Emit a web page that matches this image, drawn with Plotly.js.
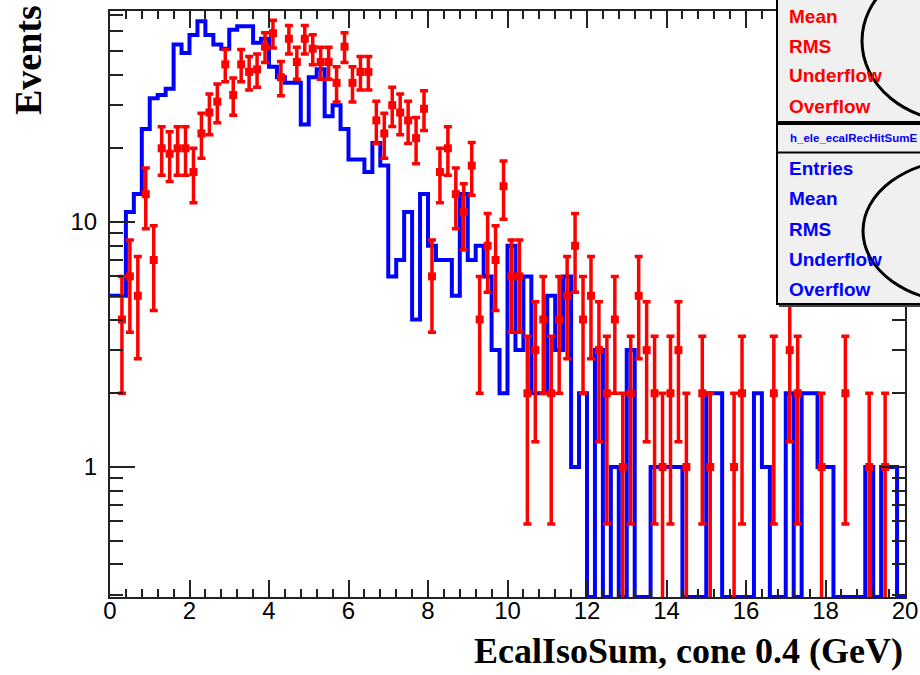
<!DOCTYPE html>
<html><head><meta charset="utf-8">
<script src="https://cdn.plot.ly/plotly-3.0.1.min.js"></script>
<style>body{margin:0;background:#fff}#chart{width:920px;height:675px}</style>
</head><body><div id="chart"></div>
<script>
// ---- data ----
const binLow = 0;
const binWidth = 0.2;
const blueCounts = [5,5,11,13,24,32,33,35,53,49,
  58,66,58,53,51,61,63,63,54,56,
  43,39,37,37,25,39,42,27,30,24,
  18,18,16,21,17,6,7,11,4,13,
  8,7,7,5,13,7,8,6,3,2,
  8,3,6,2,2,5,3,6,1,2,
  0,3,0,1,0,3,0,0,1,1,
  1,1,0,0,0,2,2,0,0,0,
  0,2,1,0,0,2,0,2,2,1,
  1,0,0,0,0,1,0,1,1,0];
const redCounts = [0,4,6,5,13,7,20,19,20,20,
  16,23,28,31,44,33,44,41,42,52,
  59,39,56,45,56,51,45,45,37,52,
  37,41,41,26,23,30,28,26,22,29,
  6,16,20,13,11,17,4,8,7,14,
  6,6,2,3,4,2,4,5,8,4,
  5,3,2,4,1,2,5,3,2,1,
  2,3,1,0,2,1,0,0,1,2,
  0,0,0,2,0,3,2,0,0,1,
  0,0,2,0,0,1,0,1,0,0];
const xTickLabels = ['0','2','4','6','8','10','12','14','16','18','20'];
const yTickValues = [1, 10];
const yTickLabels = ['1', '10'];
const statRedLabels = ['Mean','RMS','Underflow','Overflow'];
const statBlueLabels = ['Entries','Mean','RMS','Underflow','Overflow'];
const statTitle = 'h_ele_ecalRecHitSumE';
const xTitle = 'EcalIsoSum, cone 0.4 (GeV)';
const yTitle = 'Events';

// ---- build ----
const yMin = 0.2946, yMax = 72.7;
const nb = blueCounts.length;
const edges = [];
for (let i = 0; i <= nb; i++) edges.push(+(binLow + i * binWidth).toFixed(4));
const blueY = blueCounts.map(v => v > 0 ? v : yMin);
blueY.push(blueY[blueY.length - 1]);

const redX = [], redY = [], redErr = [];
redCounts.forEach((v, i) => {
  if (v > 0) {
    redX.push(binLow + (i + 0.5) * binWidth);
    redY.push(v);
    redErr.push(Math.sqrt(v));
  }
});

const minorY = [];
[0.1, 1, 10].forEach(d => { for (let k = 2; k <= 9; k++) { const v = k * d; if (v > yMin && v < yMax) minorY.push(v); } });

// plot area in pixels: left 110, right 905, top 11, bottom 597
const L = 110, R = 905, T = 11, B = 597;
const px = x => (x - L) / (R - L);
const py = y => (B - y) / (B - T);

const traces = [
  {
    x: edges, y: blueY, type: 'scatter', mode: 'lines',
    line: {shape: 'hv', color: '#0000ff', width: 4},
    hoverinfo: 'skip', showlegend: false
  },
  {
    x: redX, y: redY, type: 'scatter', mode: 'markers',
    marker: {symbol: 'square', size: 8, color: '#ff0000'},
    error_y: {type: 'data', array: redErr, visible: true, color: '#ff0000', thickness: 3.5, width: 4},
    hoverinfo: 'skip', showlegend: false
  }
];

const shapes = [
  {type: 'rect', xref: 'paper', yref: 'paper', x0: px(777), x1: px(935), y0: py(122), y1: py(-10),
   line: {color: '#000', width: 2}, fillcolor: '#f0f0f0', layer: 'above'},
  {type: 'rect', xref: 'paper', yref: 'paper', x0: px(777), x1: px(935), y0: py(304), y1: py(124),
   line: {color: '#000', width: 2}, fillcolor: '#f0f0f0', layer: 'above'},
  {type: 'line', xref: 'paper', yref: 'paper', x0: px(777), x1: px(935), y0: py(152.5), y1: py(152.5),
   line: {color: '#000', width: 2}, layer: 'above'},
  {type: 'line', xref: 'paper', yref: 'paper', x0: px(779), x1: px(935), y0: py(306), y1: py(306),
   line: {color: '#444', width: 2}, layer: 'above'},
  {type: 'circle', xref: 'paper', yref: 'paper', x0: px(862), x1: px(1058), y0: py(122), y1: py(-40),
   line: {color: '#000', width: 3}, layer: 'above'},
  {type: 'circle', xref: 'paper', yref: 'paper', x0: px(863), x1: px(1061), y0: py(302), y1: py(160),
   line: {color: '#000', width: 3}, layer: 'above'}
];

const annotations = [];
const redYs = [16.5, 46, 76, 106.5];
statRedLabels.forEach((t, i) => annotations.push({
  text: t, xref: 'paper', yref: 'paper', x: px(787), y: py(redYs[i]), xanchor: 'left', yanchor: 'middle',
  showarrow: false, font: {family: 'Liberation Sans, Arial, sans-serif', size: 19, color: '#ff0000', weight: 'bold'}
}));
const blueYs = [168, 198.5, 229, 259, 289];
statBlueLabels.forEach((t, i) => annotations.push({
  text: t, xref: 'paper', yref: 'paper', x: px(787), y: py(blueYs[i]), xanchor: 'left', yanchor: 'middle',
  showarrow: false, font: {family: 'Liberation Sans, Arial, sans-serif', size: 19, color: '#0000ff', weight: 'bold'}
}));
annotations.push({
  text: statTitle, xref: 'paper', yref: 'paper', x: px(788), y: py(137.5), xanchor: 'left', yanchor: 'middle',
  showarrow: false, font: {family: 'Liberation Sans, Arial, sans-serif', size: 11.5, color: '#0000ff', weight: 'bold'}
});
annotations.push({
  text: xTitle, xref: 'paper', yref: 'paper', x: 1, y: py(651), xanchor: 'right', yanchor: 'middle',
  showarrow: false, font: {family: 'Liberation Serif, Times New Roman, serif', size: 36, color: '#000', weight: 'bold'}
});
annotations.push({
  text: yTitle, xref: 'paper', yref: 'paper', x: px(28), y: py(3), xanchor: 'center', yanchor: 'top',
  textangle: -90, showarrow: false,
  font: {family: 'Liberation Serif, Times New Roman, serif', size: 38, color: '#000', weight: 'bold'}
});

const axisFont = {family: 'Liberation Sans, Arial, sans-serif', size: 24, color: '#000'};
const layout = {
  width: 920, height: 675,
  margin: {l: L, r: 920 - R, t: T, b: 675 - B, pad: 0},
  paper_bgcolor: '#ffffff', plot_bgcolor: '#ffffff',
  showlegend: false,
  xaxis: {
    range: [0, 20], tickmode: 'array',
    tickvals: xTickLabels.map(Number), ticktext: xTickLabels,
    ticks: 'inside', ticklen: 17, tickwidth: 2, tickcolor: '#222',
    showline: true, linecolor: '#222', linewidth: 2, mirror: 'allticks',
    showgrid: false, zeroline: false, tickfont: axisFont, ticklabelstandoff: -9,
    minor: {dtick: 0.4, tick0: 0, ticks: 'inside', ticklen: 8, tickwidth: 2, tickcolor: '#222', showgrid: false}
  },
  yaxis: {
    type: 'log', range: [Math.log10(yMin), Math.log10(yMax)],
    tickmode: 'array', tickvals: yTickValues, ticktext: yTickLabels,
    ticks: 'inside', ticklen: 25, tickwidth: 2, tickcolor: '#222',
    showline: true, linecolor: '#222', linewidth: 2, mirror: 'allticks',
    showgrid: false, zeroline: false, tickfont: axisFont, ticklabelstandoff: 6,
    minor: {tickmode: 'array', tickvals: minorY, ticks: 'inside', ticklen: 13, tickwidth: 2, tickcolor: '#222', showgrid: false}
  },
  shapes: shapes,
  annotations: annotations
};

Plotly.newPlot('chart', traces, layout, {staticPlot: true, displayModeBar: false});
</script>
</body></html>
